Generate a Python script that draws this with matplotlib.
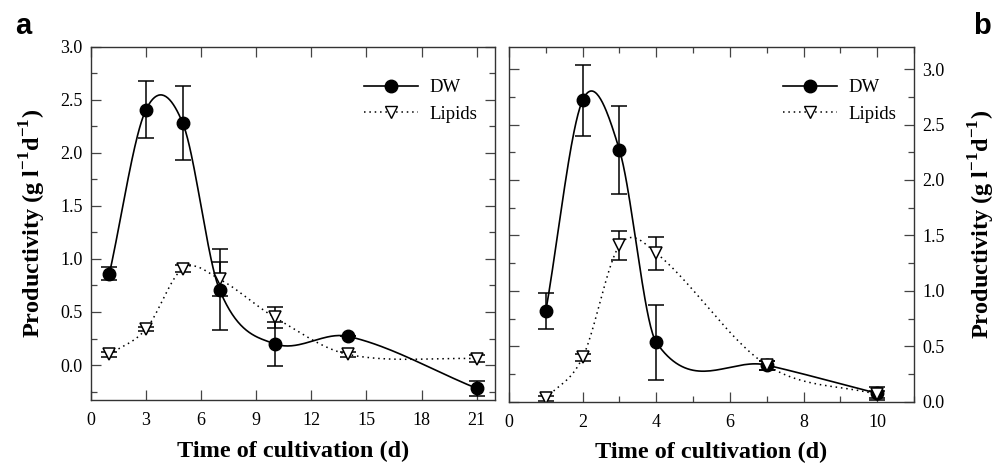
import matplotlib
matplotlib.use("Agg")
import matplotlib.pyplot as plt
import numpy as np
from matplotlib.ticker import MultipleLocator

# panel a
days_a = [1, 3, 5, 7, 10, 14, 21]
dw_a = [0.86, 2.41, 2.28, 0.71, 0.20, 0.27, -0.22]
dw_a_err = [0.06, 0.27, 0.35, 0.38, 0.21, 0.0, 0.07]
lip_a = [0.10, 0.34, 0.91, 0.81, 0.45, 0.10, 0.06]
lip_a_err = [0.02, 0.02, 0.03, 0.16, 0.10, 0.02, 0.03]

# panel b
days_b = [1, 2, 3, 4, 7, 10]
dw_b = [0.82, 2.72, 2.27, 0.535, 0.33, 0.075]
dw_b_err = [0.16, 0.32, 0.40, 0.34, 0.04, 0.06]
lip_b = [0.03, 0.40, 1.41, 1.34, 0.33, 0.065]
lip_b_err = [0.02, 0.03, 0.13, 0.15, 0.04, 0.03]


def spline(x, y, n=40):
    # Catmull-Rom style hermite curve through the points
    x = np.asarray(x, float)
    y = np.asarray(y, float)
    k = len(x)
    m = np.zeros(k)
    m[0] = (y[1] - y[0]) / (x[1] - x[0])
    m[-1] = (y[-1] - y[-2]) / (x[-1] - x[-2])
    for i in range(1, k - 1):
        m[i] = (y[i + 1] - y[i - 1]) / (x[i + 1] - x[i - 1])
    xs_all, ys_all = [], []
    for i in range(k - 1):
        h = x[i + 1] - x[i]
        t = np.linspace(0, 1, n)
        h00 = 2 * t**3 - 3 * t**2 + 1
        h10 = t**3 - 2 * t**2 + t
        h01 = -2 * t**3 + 3 * t**2
        h11 = t**3 - t**2
        xs_all.append(x[i] + t * h)
        ys_all.append(h00 * y[i] + h10 * h * m[i] + h01 * y[i + 1] + h11 * h * m[i + 1])
    return np.concatenate(xs_all), np.concatenate(ys_all)


plt.rcParams["font.family"] = ["Liberation Serif", "DejaVu Serif"]
plt.rcParams["mathtext.fontset"] = "custom"
plt.rcParams["mathtext.rm"] = "Liberation Serif:bold"
plt.rcParams["mathtext.bf"] = "Liberation Serif:bold"

fig = plt.figure(figsize=(10.03, 4.67), dpi=100)
ax1 = fig.add_axes([0.0907, 0.1435, 0.4028, 0.7559])
ax2 = fig.add_axes([0.5075, 0.1399, 0.4038, 0.7595])

ylabel = r"Productivity (g l$^{\mathbf{-1}}$d$^{\mathbf{-1}}$)"


def draw(ax, days, dw, dw_err, lip, lip_err):
    xs, ys = spline(days, dw)
    ax.plot(xs, ys, color="black", linewidth=1.2)
    xs, ys = spline(days, lip)
    ax.plot(xs, ys, color="black", linewidth=1.1, linestyle=(0, (1, 2.5)))
    ax.errorbar(days, dw, yerr=dw_err, fmt="none", ecolor="black",
                elinewidth=1.1, capsize=6, capthick=1.1)
    ax.errorbar(days, lip, yerr=lip_err, fmt="none", ecolor="black",
                elinewidth=1.1, capsize=6, capthick=1.1)
    ax.plot(days, dw, "o", color="black", markersize=9, linestyle="none")
    ax.plot(days, lip, "v", markerfacecolor="white", markeredgecolor="black",
            markeredgewidth=1.1, markersize=9, linestyle="none")
    # legend entries
    ax.plot([], [], color="black", marker="o", markersize=9, linewidth=1.2, label="DW")
    ax.plot([], [], color="black", marker="v", markerfacecolor="white", markersize=9,
            linestyle=(0, (1, 2.5)), linewidth=1.1, label="Lipids")
    ax.legend(loc="upper right", frameon=False, fontsize=13.5, handlelength=2.9,
              handletextpad=0.6, bbox_to_anchor=(0.975, 0.93), borderaxespad=0,
              labelspacing=0.5)
    ax.tick_params(which="both", direction="in", top=True, right=True,
                   labelsize=13, color="#444444", pad=9)
    ax.tick_params(which="major", length=7, width=0.9)
    ax.tick_params(which="minor", length=4, width=0.9)
    ax.yaxis.set_minor_locator(MultipleLocator(0.25))
    for s in ax.spines.values():
        s.set_linewidth(1.0)
        s.set_color("#333333")
    ax.set_xlabel("Time of cultivation (d)", fontsize=17.5, fontweight="bold", labelpad=8)


draw(ax1, days_a, dw_a, dw_a_err, lip_a, lip_a_err)
ax1.set_xlim(0, 22)
ax1.set_ylim(-0.33, 3.0)
ax1.set_xticks([0, 3, 6, 9, 12, 15, 18, 21])
ax1.set_yticks([0.0, 0.5, 1.0, 1.5, 2.0, 2.5, 3.0])
ax1.tick_params(axis="y", pad=6)
ax1.set_ylabel(ylabel, fontsize=17.5, fontweight="bold", labelpad=9)

draw(ax2, days_b, dw_b, dw_b_err, lip_b, lip_b_err)
ax2.set_xlim(0, 11)
ax2.set_ylim(0, 3.2)
ax2.set_xticks([0, 2, 4, 6, 8, 10])
ax2.xaxis.set_minor_locator(MultipleLocator(1))
ax2.set_yticks([0.0, 0.5, 1.0, 1.5, 2.0, 2.5, 3.0])
ax2.yaxis.tick_right()
ax2.yaxis.set_ticks_position("both")
ax2.tick_params(axis="y", pad=6, labelleft=False, labelright=True)
ax2.yaxis.set_label_position("right")
ax2.set_ylabel(ylabel, fontsize=17.5, fontweight="bold", labelpad=16)

fig.text(0.015, 0.945, "a", fontsize=21, fontweight="bold", family="Liberation Sans",
         va="center", ha="left")
fig.text(0.970, 0.945, "b", fontsize=21, fontweight="bold", family="Liberation Sans",
         va="center", ha="left")

fig.savefig("out.png", dpi=100)
